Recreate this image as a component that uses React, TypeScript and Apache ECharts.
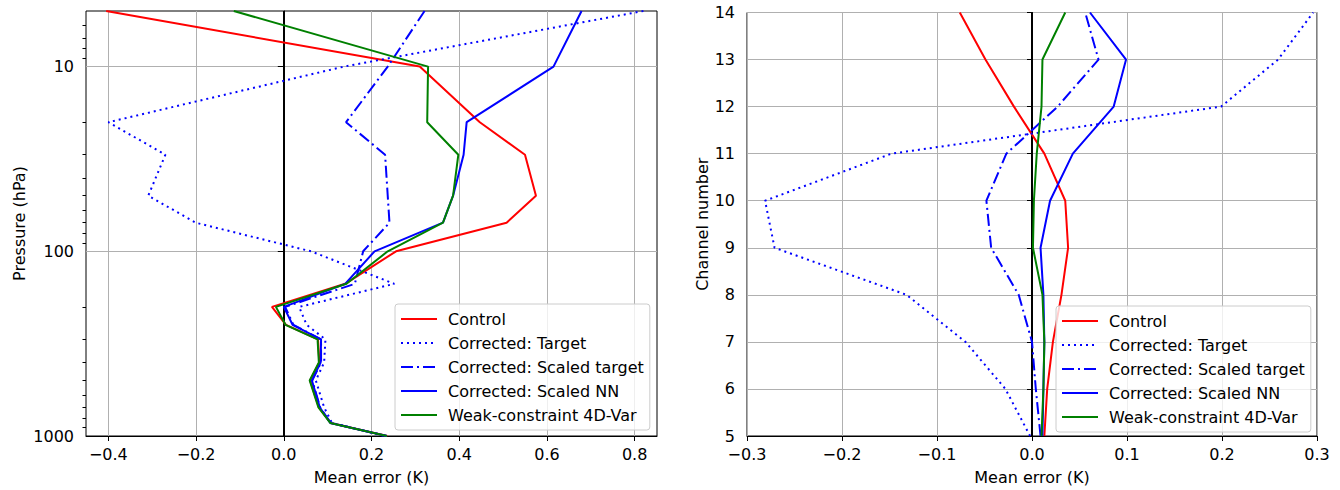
import { useEffect, useRef } from 'react';
import * as echarts from 'echarts';

// ---------- Data ----------
const seriesNames = [
  'Control',
  'Corrected: Target',
  'Corrected: Scaled target',
  'Corrected: Scaled NN',
  'Weak-constraint 4D-Var',
];

// Left panel: mean error (K) at pressure levels (hPa)
const pressureLevels = [5, 10, 20, 30, 50, 70, 100, 150, 200, 250, 300, 400, 500, 700, 850, 1000];
const pControl = [-0.405, 0.31, 0.447, 0.55, 0.575, 0.508, 0.256, 0.14, -0.027, 0.005, 0.078, 0.081, 0.06, 0.08, 0.107, 0.236];
const pTarget = [0.82, 0.137, -0.4, -0.27, -0.309, -0.201, 0.062, 0.252, 0.035, 0.052, 0.095, 0.092, 0.073, 0.092, 0.11, 0.23];
const pScaledTarget = [0.321, 0.237, 0.142, 0.231, 0.237, 0.241, 0.181, 0.162, 0.003, 0.022, 0.085, 0.085, 0.065, 0.083, 0.107, 0.235];
const pScaledNN = [0.679, 0.615, 0.417, 0.41, 0.386, 0.363, 0.207, 0.14, 0.0, 0.02, 0.085, 0.084, 0.064, 0.082, 0.106, 0.235];
const pWeak4DVar = [-0.114, 0.329, 0.327, 0.398, 0.386, 0.363, 0.237, 0.143, -0.018, 0.004, 0.077, 0.08, 0.059, 0.079, 0.106, 0.235];

// Right panel: mean error (K) per channel number
const channels = [5, 6, 7, 8, 9, 10, 11, 12, 13, 14];
const cControl = [0.013, 0.016, 0.022, 0.031, 0.038, 0.035, 0.013, -0.019, -0.049, -0.076];
const cTarget = [-0.002, -0.028, -0.07, -0.132, -0.271, -0.281, -0.148, 0.199, 0.259, 0.296];
const cScaledTarget = [0.009, 0.004, 0.0, -0.014, -0.043, -0.048, -0.027, 0.027, 0.07, 0.056];
const cScaledNN = [0.011, 0.012, 0.013, 0.012, 0.009, 0.019, 0.043, 0.086, 0.099, 0.061];
const cWeak4DVar = [0.01, 0.012, 0.013, 0.011, 0.001, 0.002, 0.005, 0.01, 0.011, 0.035];

// Ticks
const leftXTicks = [-0.4, -0.2, 0, 0.2, 0.4, 0.6, 0.8];
const leftYTicks = [10, 100, 1000];
const leftYMinorTicks = [6, 7, 8, 9, 20, 30, 40, 50, 60, 70, 80, 90, 200, 300, 400, 500, 600, 700, 800, 900];
const rightXTicks = [-0.3, -0.2, -0.1, 0, 0.1, 0.2, 0.3];

const pressureSets = [pControl, pTarget, pScaledTarget, pScaledNN, pWeak4DVar];
const channelSets = [cControl, cTarget, cScaledTarget, cScaledNN, cWeak4DVar];

const lineStyles: any[] = [
  { color: '#ff0000', type: 'solid' },
  { color: '#0000ff', type: [2, 4] },
  { color: '#0000ff', type: [12, 4, 2, 4] },
  { color: '#0000ff', type: 'solid' },
  { color: '#008000', type: 'solid' },
];

const FONT = 'DejaVu Sans';

function fmtNum(v: number) {
  if (Math.abs(v) < 1e-9) return '0.0';
  return v.toFixed(1).replace('-', '\u2212');
}

export default function App() {
  const ref = useRef<HTMLDivElement>(null);

  useEffect(() => {
    if (!ref.current) return;
    const chart = echarts.init(ref.current, undefined, { renderer: 'svg' });

    const textBase = { fontFamily: FONT, fontSize: 16, color: '#000' };
    const gridLine = { show: true, lineStyle: { color: '#b0b0b0', width: 1 } };
    const axisLineStyle = { show: true, lineStyle: { color: '#000', width: 1 } };

    const zeroLine = {
      silent: true,
      symbol: 'none',
      label: { show: false },
      lineStyle: { color: '#000', width: 2, type: 'solid' },
      data: [{ xAxis: 0 }],
      z: 2,
    };

    const series: any[] = [];
    seriesNames.forEach((name, i) => {
      series.push({
        name,
        type: 'line',
        xAxisIndex: 0,
        yAxisIndex: 0,
        data: pressureLevels.map((p, k) => [pressureSets[i][k], p]),
        symbol: 'none',
        showSymbol: false,
        clip: true,
        lineStyle: { width: 2, color: lineStyles[i].color, type: lineStyles[i].type, cap: 'butt' },
        itemStyle: { color: lineStyles[i].color },
        z: 3,
        markLine: i === 0 ? zeroLine : undefined,
      });
    });
    seriesNames.forEach((name, i) => {
      series.push({
        name,
        type: 'line',
        xAxisIndex: 1,
        yAxisIndex: 2,
        data: channels.map((c, k) => [channelSets[i][k], c]),
        symbol: 'none',
        showSymbol: false,
        clip: true,
        lineStyle: { width: 2, color: lineStyles[i].color, type: lineStyles[i].type, cap: 'butt' },
        itemStyle: { color: lineStyles[i].color },
        z: 3,
        markLine: i === 0 ? zeroLine : undefined,
      });
    });

    const legendCommon = {
      orient: 'vertical',
      data: seriesNames,
      itemWidth: 36,
      itemHeight: 14,
      itemGap: 4,
      padding: [5, 6, 5, 5],
      backgroundColor: 'rgba(255,255,255,0.8)',
      borderColor: '#cccccc',
      borderWidth: 1,
      borderRadius: 3,
      selectedMode: false,
      itemStyle: { opacity: 0 },
      textStyle: { ...textBase, lineHeight: 20, padding: [0, 0, 0, 6] },
      z: 10,
    };

    chart.setOption({
      animation: false,
      backgroundColor: '#fff',
      textStyle: { fontFamily: FONT },
      grid: [
        { left: 86, right: 683, top: 11, bottom: 54, show: true, borderColor: '#000', borderWidth: 1, backgroundColor: 'transparent' },
        { left: 747, right: 23, top: 12.5, bottom: 53.5, show: true, borderColor: '#000', borderWidth: 1, backgroundColor: 'transparent' },
      ],
      xAxis: [
        {
          type: 'value',
          gridIndex: 0,
          min: -0.451,
          max: 0.851,
          splitNumber: 6,
          name: 'Mean error (K)',
          nameLocation: 'middle',
          nameGap: 33,
          nameTextStyle: textBase,
          axisLine: axisLineStyle,
          axisTick: { show: true, length: 5, customValues: leftXTicks, lineStyle: { color: '#000' } },
          axisLabel: { ...textBase, margin: 10, customValues: leftXTicks, formatter: (v: number) => fmtNum(v) },
          splitLine: gridLine,
        },
        {
          type: 'value',
          gridIndex: 1,
          min: -0.3,
          max: 0.3,
          interval: 0.1,
          name: 'Mean error (K)',
          nameLocation: 'middle',
          nameGap: 33,
          nameTextStyle: textBase,
          axisLine: axisLineStyle,
          axisTick: { show: true, length: 5, customValues: rightXTicks, lineStyle: { color: '#000' } },
          axisLabel: { ...textBase, margin: 10, customValues: rightXTicks, formatter: (v: number) => fmtNum(v) },
          splitLine: gridLine,
        },
      ],
      yAxis: [
        {
          type: 'log',
          logBase: 10,
          gridIndex: 0,
          min: 5,
          max: 1000,
          inverse: true,
          name: 'Pressure (hPa)',
          nameLocation: 'middle',
          nameGap: 59,
          nameTextStyle: textBase,
          axisLine: axisLineStyle,
          axisTick: { show: true, length: 6, customValues: leftYTicks, lineStyle: { color: '#000' } },
          axisLabel: {
            ...textBase,
            margin: 12,
            customValues: leftYTicks,
            formatter: (v: number) => String(Math.round(v)),
          },
          splitLine: gridLine,
        },
        {
          type: 'log',
          logBase: 10,
          gridIndex: 0,
          min: 5,
          max: 1000,
          inverse: true,
          position: 'left',
          axisLine: { show: false },
          axisTick: { show: true, length: 3.5, customValues: leftYMinorTicks, lineStyle: { color: '#000' } },
          axisLabel: { show: false },
          splitLine: { show: false },
        },
        {
          type: 'value',
          gridIndex: 1,
          min: 5,
          max: 14,
          interval: 1,
          name: 'Channel number',
          nameLocation: 'middle',
          nameGap: 37,
          nameTextStyle: textBase,
          axisLine: axisLineStyle,
          axisTick: { show: true, length: 5, lineStyle: { color: '#000' } },
          axisLabel: { ...textBase, margin: 12 },
          splitLine: gridLine,
        },
      ],
      legend: [
        { ...legendCommon, left: 395, top: 304 },
        { ...legendCommon, left: 1056, top: 306 },
      ],
      series,
    });

    return () => chart.dispose();
  }, []);

  return (
    <div
      ref={ref}
      style={{ position: 'fixed', left: 0, top: 0, width: 1340, height: 490 }}
    />
  );
}
